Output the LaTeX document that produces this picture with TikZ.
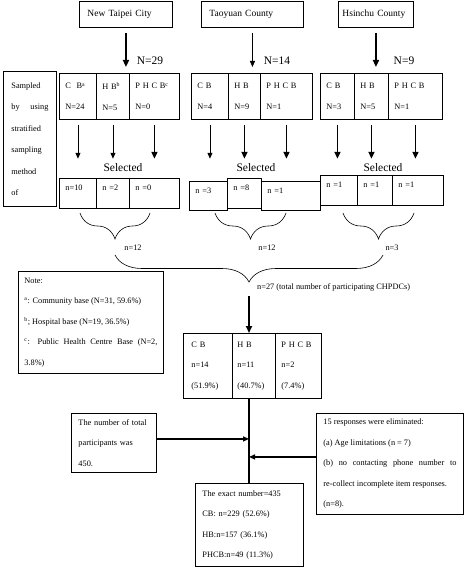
\documentclass[tikz,border=0pt]{standalone}
\usepackage{fontspec}
\setmainfont{Liberation Serif}
\usetikzlibrary{arrows.meta,decorations.pathreplacing}

\begin{document}
\begin{tikzpicture}[x=1pt, y=-1pt,
    box/.style={draw, line width=0.9pt, inner xsep=6pt, inner ysep=0pt, anchor=north west,
      align=left, font=\fontsize{8.3}{20.5}\selectfont},
    title/.style={box, inner xsep=8pt, minimum height=26pt, font=\fontsize{9.5}{11}\selectfont},
    sel/.style={box, text height=7pt, text depth=12pt, inner ysep=5pt},
    big/.style={font=\fontsize{11.5}{13}\selectfont, inner sep=1pt},
    small/.style={font=\fontsize{8.3}{10}\selectfont, inner sep=1pt},
    arr/.style={-{Triangle[width=5pt,length=6pt]}, line width=0.9pt},
    bigarr/.style={-{Triangle[width=6pt,length=7pt]}, line width=1.7pt},
    curly/.style={decorate, decoration={brace, mirror, amplitude=#1}, line width=0.6pt}]
    \useasboundingbox (0,0) rectangle (466,569);
    \node[title, text width=77pt] (NTC) at (79,1){New Taipei City};
    \node[title, text width=86pt] (TY) at (201,1){Taoyuan County};
    \node[title, inner xsep=4pt, text width=67pt] (HC) at (338,1){Hsinchu County};
    \node[big] (N29) at (150,61){N=29};
    \node[big] (N14) at (277,61){N=14};
    \node[big] (N9) at (404,61){N=9};
    \node[box, inner xsep=8pt, text width=37pt, minimum height=135pt, align=justify,
      font=\fontsize{8.3}{21.5}\selectfont] (sampled) at (3,71)
      {Sampled\linebreak by using\linebreak stratified\linebreak sampling\linebreak method\linebreak of};
    \node[box, text width=25pt, minimum height=46pt] (NTCcb) at (59,73){C\ \ B\textsuperscript{a}\\N=24};
    \node[box, text width=21pt, minimum height=46pt] (NTChb) at (96,73){H B\textsuperscript{b}\\N=5};
    \node[box, text width=38pt, minimum height=46pt] (NTCph) at (129,73){P H C B\textsuperscript{c}\\N=0};
    \node[box, text width=25pt, minimum height=46pt] (TYcb) at (191,73){C B\\N=4};
    \node[box, text width=20pt, minimum height=46pt] (TYhb) at (228,73){H B\\N=9};
    \node[box, text width=40pt, minimum height=46pt] (TYph) at (260,73){P H C B\\N=1};
    \node[box, text width=22pt, minimum height=46pt] (HCcb) at (320,73){C B\\N=3};
    \node[box, text width=22pt, minimum height=46pt] (HChb) at (354,73){H B\\N=5};
    \node[box, text width=42pt, minimum height=46pt] (HCph) at (388,73){P H C B\\N=1};
    \node[big] (NTCsel) at (123,168){Selected};
    \node[big] (TYsel) at (256,168){Selected};
    \node[big] (HCsel) at (383,168){Selected};
    \node[sel, text width=25pt, minimum height=30pt] (NTCa) at (59,178){n=10};
    \node[sel, text width=21pt, minimum height=30pt] (NTCb) at (96,178){n =2};
    \node[sel, text width=38pt, minimum height=30pt] (NTCc) at (129,178){n =0};
    \node[sel, text width=26pt, minimum height=28pt] (TYa) at (189,181){n =3};
    \node[sel, text width=22pt, minimum height=30pt] (TYb) at (227,178){n =8};
    \node[sel, text width=47pt, minimum height=29pt] (TYc) at (261,181){n =1};
    \node[sel, text width=25pt, minimum height=30pt] (HCa) at (320,175){n =1};
    \node[sel, text width=23pt, minimum height=30pt] (HCb) at (357,175){n =1};
    \node[sel, text width=39pt, minimum height=30pt] (HCc) at (392,175){n =1};
    \draw[bigarr, shorten <=5pt, shorten >=6pt] (NTC.south) -- (NTC.south |- NTChb.north);
    \draw[arr, shorten <=5pt, shorten >=6pt] (TY.south) -- (TY.south |- TYhb.north);
    \draw[bigarr, shorten <=5pt, shorten >=6pt] (HC.south) -- (HC.south |- HChb.north);
    \draw[arr, shorten <=5pt, shorten >=4pt] (NTCcb.south) -- (NTCcb.south |- NTCsel.north);
    \draw[arr, shorten <=5pt, shorten >=4pt] (NTChb.south) -- (NTChb.south |- NTCsel.north);
    \draw[bigarr, shorten <=5pt, shorten >=4pt] (NTCph.south) -- (NTCph.south |- NTCsel.north);
    \draw[arr, shorten <=5pt, shorten >=4pt] (TYcb.south) -- (TYcb.south |- TYsel.north);
    \draw[bigarr, shorten <=5pt, shorten >=4pt] (TYhb.south) -- (TYhb.south |- TYsel.north);
    \draw[bigarr, shorten <=5pt, shorten >=4pt] (TYph.south) -- (TYph.south |- TYsel.north);
    \draw[bigarr, shorten <=5pt, shorten >=4pt] (HCcb.south) -- (HCcb.south |- HCsel.north);
    \draw[bigarr, shorten <=5pt, shorten >=4pt] (HChb.south) -- (HChb.south |- HCsel.north);
    \draw[bigarr, shorten <=5pt, shorten >=4pt] (HCph.south) -- (HCph.south |- HCsel.north);
    \draw[curly=26pt] (80,213) -- (150,213);
    \draw[curly=26pt] (215,213) -- (286,213);
    \draw[curly=26pt] (343,213) -- (414,213);
    \node[small] (NTCn) at (133,248){n=12};
    \node[small] (TYn) at (267,248){n=12};
    \node[small] (HCn) at (392,248){n=3};
    \draw[curly=27pt] (115,255) -- (383,255);
    \coordinate (tip) at (249,283);
    \node[small, anchor=west] (total) at (256,287){n=27 (total number of participating CHPDCs)};
    \node[box, text width=133pt, minimum height=102pt, align=justify] (note) at (18,271)
      {Note:\\\textsuperscript{a}: Community base (N=31, 59.6\%)\\\textsuperscript{b}; Hospital base (N=19, 36.5\%)\\
       \textsuperscript{c}: Public Health Centre Base (N=2,\linebreak 3.8\%)};
    \node[box, inner xsep=8pt, text width=33pt, minimum height=65pt] (resCB) at (183,333){C B\\n=14\\(51.9\%)};
    \node[box, inner xsep=5pt, text width=33pt, minimum height=65pt] (resHB) at (232,333){H B\\n=11\\(40.7\%)};
    \node[box, inner xsep=6pt, text width=34pt, minimum height=65pt] (resPH) at (275,333){P H C B\\n=2\\(7.4\%)};
    \draw[bigarr, shorten <=13pt] (tip) -- (tip |- resHB.north);
    \node[box, inner xsep=7pt, text width=71pt, minimum height=59pt] (part) at (71,413)
      {The number of total\\participants was\\450.};
    \node[box, inner xsep=7pt, text width=133pt, minimum height=101pt, align=justify] (elim) at (316,413)
      {15 responses were eliminated:\\(a) Age limitations (n = 7)\\(b) no contacting phone number to\linebreak
       re-collect incomplete item responses.\\(n=8).};
    \node[box, inner xsep=7pt, text width=94pt, minimum height=83pt] (exact) at (195,483)
      {The exact number=435\\CB: n=229 (52.6\%)\\HB:n=157 (36.1\%)\\PHCB:n=49 (11.3\%)};
    \draw[line width=1.7pt] (tip |- resHB.south) -- (tip |- exact.north);
    \draw[arr, line width=1.3pt] ([yshift=4pt]part.east) -- ([yshift=4pt]part.east -| tip);
    \draw[arr, line width=1.3pt] ([yshift=7pt]elim.west) -- ([yshift=7pt]elim.west -| tip);
  \end{tikzpicture}
\end{document}
